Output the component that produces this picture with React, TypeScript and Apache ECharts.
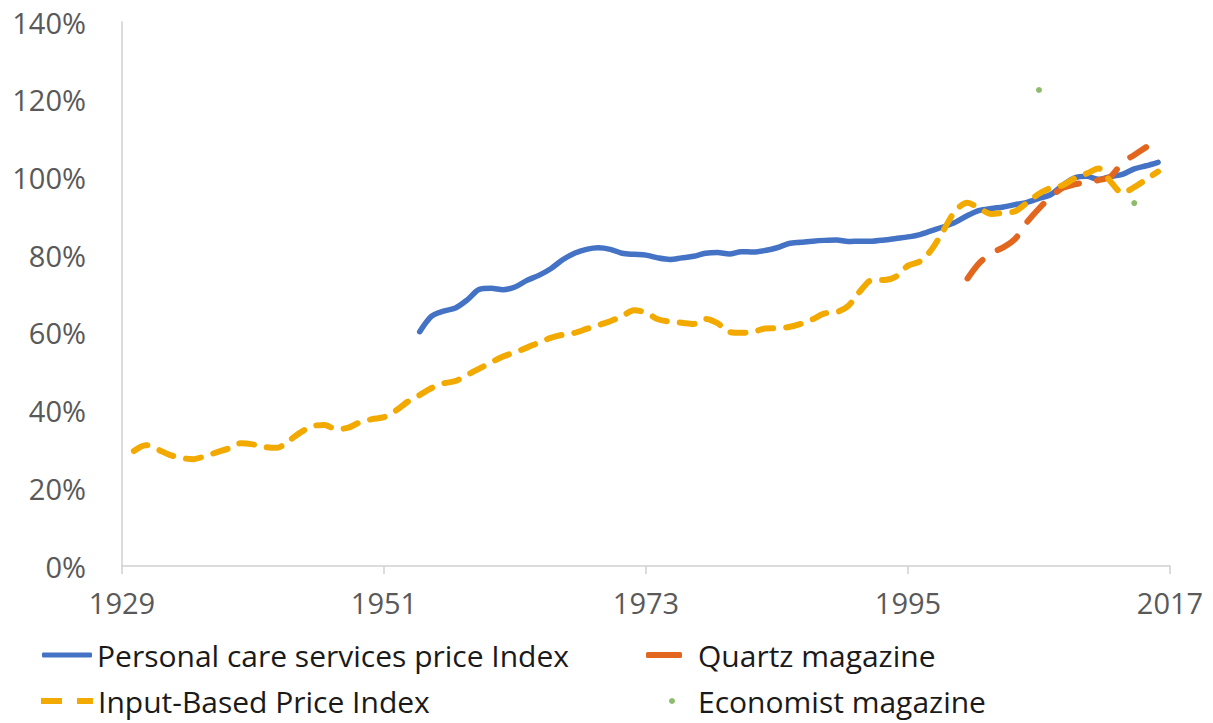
import React, { useEffect, useRef } from "react";
import * as echarts from "echarts";

const categories: string[] = [];
for (let y = 1929; y <= 2017; y++) categories.push(String(y));

const personalCareStart = 1954;
const personalCareValues = [
  60.3, 64.3, 65.6, 66.4, 68.5, 71.2, 71.5, 71.1, 71.8,
  73.5, 74.8, 76.5, 78.8, 80.5, 81.5, 81.9, 81.5, 80.5, 80.2,
  80.0, 79.3, 78.9, 79.3, 79.7, 80.5, 80.7, 80.3, 80.9, 80.8,
  81.2, 81.9, 83.0, 83.3, 83.6, 83.8, 83.9, 83.5, 83.6, 83.6,
  83.9, 84.3, 84.7, 85.3, 86.3, 87.3, 88.5, 90.2, 91.5, 92.0,
  92.4, 93.0, 93.6, 94.6, 95.6, 98.0, 99.9, 100.3, 99.5, 100.2,
  100.8, 102.2, 103.0, 103.9,
];

const inputBasedStart = 1930;
const inputBasedValues = [
  29.6, 31.1, 30.0, 28.6, 27.8, 27.5, 28.3, 29.3, 30.3,
  31.6, 31.3, 30.6, 30.4, 32.2, 34.4, 36.0, 36.3, 35.2, 35.6,
  37.0, 37.8, 38.3, 40.0, 42.3, 44.0, 45.8, 47.0, 47.6, 49.2,
  50.8, 52.4, 53.9, 55.0, 56.2, 57.5, 58.7, 59.5, 60.0, 61.0,
  62.0, 63.0, 64.3, 65.8, 65.2, 63.5, 62.9, 62.6, 62.3, 63.6,
  62.5, 60.2, 60.0, 60.3, 61.1, 61.2, 61.5, 62.3, 63.5, 65.0,
  65.3, 67.0, 70.8, 73.6, 73.6, 74.5, 77.3, 78.4, 81.5, 86.5,
  91.5, 93.5, 92.0, 90.6, 90.9, 91.3, 93.5, 95.8, 97.3, 98.0,
  99.8, 101.0, 102.3, 99.0, 96.0, 97.5, 99.5, 101.5,
];

const quartzStart = 2000;
const quartzValues = [
  74.0, 78.0, 80.5, 82.0, 84.2, 88.5, 92.0, 95.0, 97.3, 98.2,
  98.8, 99.3, 100.2, 103.8, 105.8, 107.8,
];

const economistYears = ["2006", "2014"];
const economistValues = [122.5, 93.4];

const yTicks = { min: 0, max: 140, interval: 20 };

function align(start: number, values: number[]): (number | null)[] {
  return categories.map((c) => {
    const i = Number(c) - start;
    return i >= 0 && i < values.length ? values[i] : null;
  });
}

const BLUE = "#4472c4";
const AMBER = "#f2a900";
const RED = "#e3661f";
const GREEN = "#70ad47";
const FONT = "Open Sans";

export default function App() {
  const ref = useRef<HTMLDivElement>(null);
  useEffect(() => {
    if (!ref.current) return;
    const chart = echarts.init(ref.current, undefined, { renderer: "svg" });
    const legendText = { fontFamily: FONT, fontSize: 30, lineHeight: 30, color: "#1a1a1a" };
    chart.setOption({
      animation: false,
      backgroundColor: "#ffffff",
      grid: { left: 122, right: 43, top: 22, bottom: 157, containLabel: false },
      xAxis: {
        type: "category",
        data: categories,
        boundaryGap: false,
        axisLine: { show: true, lineStyle: { color: "#d0d0d0", width: 1.5 } },
        axisTick: { show: true, interval: 21, length: 8, lineStyle: { color: "#d0d0d0", width: 1.5 } },
        axisLabel: { interval: 21, margin: 22, fontFamily: FONT, fontSize: 29, color: "#595959" },
        splitLine: { show: false },
      },
      yAxis: {
        type: "value",
        min: yTicks.min,
        max: yTicks.max,
        interval: yTicks.interval,
        axisLine: { show: true, lineStyle: { color: "#d0d0d0", width: 1.5 } },
        axisTick: { show: false },
        splitLine: { show: false },
        axisLabel: { formatter: "{value}%", margin: 36, fontFamily: FONT, fontSize: 29, color: "#595959" },
      },
      legend: [
        {
          data: [{ name: "Personal care services price Index", icon: "roundRect" }],
          left: 42, top: 640, padding: 0, itemWidth: 50, itemHeight: 5,
          symbolKeepAspect: false,
          textStyle: legendText,
        },
        {
          data: [{ name: "Quartz magazine", icon: "roundRect" }],
          left: 646, top: 640, padding: 0, itemWidth: 36, itemHeight: 6,
          symbolKeepAspect: false,
          textStyle: { ...legendText, padding: [0, 0, 0, 11] },
        },
        {
          data: [{ name: "Input-Based Price Index", icon: "path://M0,0H21V6H0Z M36,0H52V6H36Z" }],
          left: 41, top: 686, padding: 0, itemWidth: 52, itemHeight: 6,
          symbolKeepAspect: false,
          textStyle: legendText,
        },
        {
          data: [{ name: "Economist magazine", icon: "circle" }],
          left: 669, top: 686, padding: 0, itemWidth: 6, itemHeight: 6,
          textStyle: { ...legendText, padding: [0, 0, 0, 18] },
        },
      ],
      series: [
        {
          name: "Personal care services price Index",
          type: "line",
          data: align(personalCareStart, personalCareValues),
          symbol: "none",
          smooth: 0.3,
          lineStyle: { color: BLUE, width: 5.5, cap: "round", join: "round" },
          itemStyle: { color: BLUE },
        },
        {
          name: "Quartz magazine",
          type: "line",
          data: align(quartzStart, quartzValues),
          symbol: "none",
          smooth: 0.3,
          lineStyle: { color: RED, width: 6, type: [24, 18], cap: "round", join: "round" },
          itemStyle: { color: RED },
        },
        {
          name: "Input-Based Price Index",
          type: "line",
          data: align(inputBasedStart, inputBasedValues),
          symbol: "none",
          smooth: 0.3,
          lineStyle: { color: AMBER, width: 6, type: [15, 13], cap: "round", join: "round" },
          itemStyle: { color: AMBER },
        },
        {
          name: "Economist magazine",
          type: "scatter",
          data: economistYears.map((y, i) => [y, economistValues[i]]),
          symbol: "circle",
          symbolSize: 6,
          itemStyle: { color: GREEN },
        },
      ],
    });
    return () => chart.dispose();
  }, []);
  return (
    <div
      ref={ref}
      style={{ position: "fixed", left: 0, top: 0, width: 1213, height: 723, background: "#fff" }}
    />
  );
}
